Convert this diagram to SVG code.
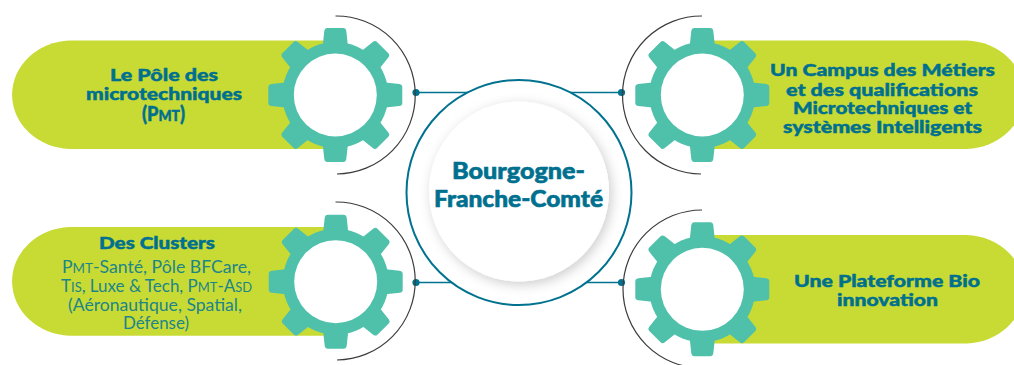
<svg xmlns="http://www.w3.org/2000/svg" xmlns:xlink="http://www.w3.org/1999/xlink" width="1014" height="365" viewBox="0 0 1014 365">
<style>
.pill{fill:#c8db34}
.arc{fill:none;stroke:#3c3c3c;stroke-width:1.2}
.line{stroke:#00728f;stroke-width:1.6;fill:none}
.dot{fill:#00728f}
text{font-family:"Lato","Liberation Sans",sans-serif;text-anchor:middle;fill:#00708f}
.b{font-weight:900;font-size:17px;stroke:#00708f;stroke-width:0.45px}
.r{font-weight:400;font-size:18px;fill:#1c8588}
.c{font-weight:900;font-size:23px;stroke:#00708f;stroke-width:0.6px}
.sc{font-size:0.76em}
</style>
<defs>
<path id="t" d="M-12.5,-50 L-11,-64 Q-10.5,-67 -8,-67 L8,-67 Q10.5,-67 11,-64 L12.5,-50 Z" fill="#4fc1ab"/>
<g id="gear">
<circle r="53" fill="#4fc1ab"/>
<use xlink:href="#t" href="#t"/>
<use xlink:href="#t" href="#t" transform="rotate(45)"/>
<use xlink:href="#t" href="#t" transform="rotate(90)"/>
<use xlink:href="#t" href="#t" transform="rotate(135)"/>
<use xlink:href="#t" href="#t" transform="rotate(180)"/>
<use xlink:href="#t" href="#t" transform="rotate(225)"/>
<use xlink:href="#t" href="#t" transform="rotate(270)"/>
<use xlink:href="#t" href="#t" transform="rotate(315)"/>
<circle r="41.5" fill="#fff"/>
</g>
<filter id="sh" x="-20%" y="-20%" width="140%" height="140%">
<feDropShadow dx="2.5" dy="3" stdDeviation="6" flood-color="#000" flood-opacity="0.2"/>
</filter>
</defs>
<rect width="1014" height="365" fill="#fff"/>
<g id="connectors">
<path class="line" d="M416,92.5H470M621.5,92.5H570M416,282.5H460M621.5,282.5H580"/>
<circle class="dot" cx="416" cy="92.5" r="3.6"/>
<circle class="dot" cx="621.5" cy="92.5" r="3.6"/>
<circle class="dot" cx="416" cy="282.5" r="3.6"/>
<circle class="dot" cx="621.5" cy="282.5" r="3.6"/>
</g>
<g id="node-pmt">
<path class="pill" d="M335,40.5H69.5A60,54.3 0 0 0 69.5,149H335Z"/>
<path class="arc" d="M335.5,16A79,79 0 0 1 337,174"/>
<use xlink:href="#gear" href="#gear" transform="translate(335.3,95)"/>
<text class="b" x="164" y="80.7" textLength="108" lengthAdjust="spacingAndGlyphs">Le Pôle des</text>
<text class="b" x="164" y="100" textLength="156" lengthAdjust="spacingAndGlyphs">microtechniques</text>
<text class="b" x="163.5" y="120.7" style="font-size:20px" textLength="43" lengthAdjust="spacingAndGlyphs">(P<tspan class="sc">MT</tspan>)</text>
</g>
<g id="node-campus">
<path class="pill" d="M702,40.5H967A60,54.3 0 0 1 967,149H702Z"/>
<path class="arc" d="M702,16A79,79 0 0 0 701,174"/>
<use xlink:href="#gear" href="#gear" transform="translate(702.3,95)"/>
<text class="b" x="882.5" y="76" textLength="225" lengthAdjust="spacingAndGlyphs">Un Campus des Métiers</text>
<text class="b" x="882" y="95.5" textLength="192" lengthAdjust="spacingAndGlyphs">et des qualifications</text>
<text class="b" x="882.5" y="114.3" textLength="179" lengthAdjust="spacingAndGlyphs">Microtechniques et</text>
<text class="b" x="882.5" y="132.7" textLength="199" lengthAdjust="spacingAndGlyphs">systèmes Intelligents</text>
</g>
<g id="node-clusters">
<path class="pill" d="M335,227H69.5A60,54.4 0 0 0 69.5,335.7H335Z"/>
<path class="arc" d="M335.5,202A79,79 0 0 1 337,360"/>
<use xlink:href="#gear" href="#gear" transform="translate(335.7,281.7)"/>
<text class="b" x="157" y="249.3" textLength="116" lengthAdjust="spacingAndGlyphs">Des Clusters</text>
<text class="r" x="156.5" y="273" textLength="189" lengthAdjust="spacingAndGlyphs">P<tspan class="sc">MT</tspan>-Santé, Pôle BFCare,</text>
<text class="r" x="156.5" y="292" textLength="191" lengthAdjust="spacingAndGlyphs">T<tspan class="sc">IS</tspan>, Luxe &amp; Tech, P<tspan class="sc">MT</tspan>-A<tspan class="sc">SD</tspan></text>
<text class="r" x="155" y="311" textLength="174" lengthAdjust="spacingAndGlyphs">(Aéronautique, Spatial,</text>
<text class="r" x="156" y="329" textLength="66" lengthAdjust="spacingAndGlyphs">Défense)</text>
</g>
<g id="node-plateforme">
<path class="pill" d="M702,235H967A60,54.3 0 0 1 967,343.5H702Z"/>
<path class="arc" d="M702,210A79,79 0 0 0 702,368"/>
<use xlink:href="#gear" href="#gear" transform="translate(702.3,289.3)"/>
<text class="b" x="887" y="286.7" textLength="186" lengthAdjust="spacingAndGlyphs">Une Plateforme Bio</text>
<text class="b" x="887.5" y="305.7" textLength="101" lengthAdjust="spacingAndGlyphs">innovation</text>
</g>
<g id="node-center">
<circle cx="519" cy="192.5" r="112.5" fill="#fff" stroke="#00728f" stroke-width="2"/>
<circle cx="519" cy="191.5" r="90" fill="#fff" filter="url(#sh)"/>
<text class="c" x="518.5" y="179.3" textLength="133" lengthAdjust="spacingAndGlyphs">Bourgogne-</text>
<text class="c" x="518.5" y="206.7" textLength="169" lengthAdjust="spacingAndGlyphs">Franche-Comté</text>
</g>
</svg>
